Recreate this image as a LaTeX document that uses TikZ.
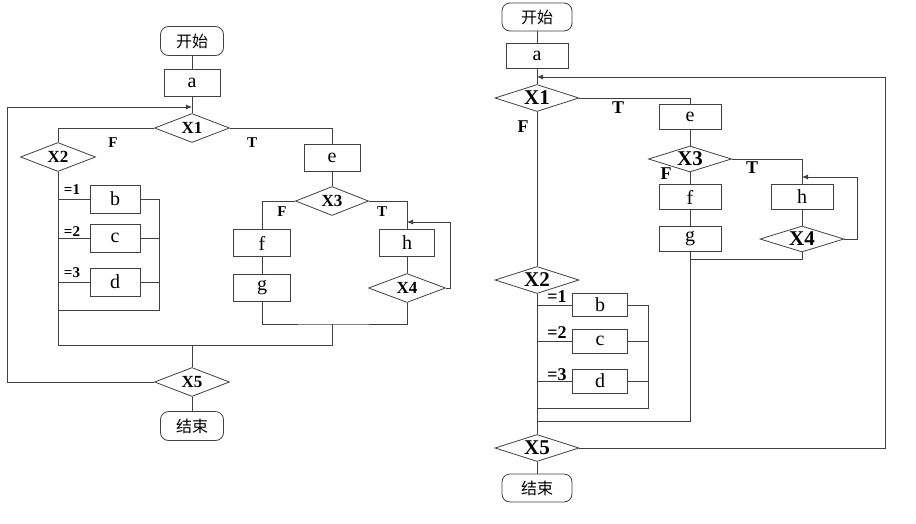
\documentclass[tikz,border=0pt]{standalone}
\usepackage{fontspec}
\setmainfont{Liberation Serif}
\newfontfamily\cjk{Noto Sans CJK SC}
\usepackage{tikz}
\usetikzlibrary{arrows.meta, shapes.geometric, calc}

\tikzset{
  term/.style={draw, rounded corners=8pt, minimum width=63pt, minimum height=29pt, inner sep=0pt, font=\cjk\fontsize{16}{16}\selectfont},
  proc/.style={draw, rectangle, minimum width=56pt, minimum height=27pt, inner sep=0pt, font=\fontsize{20}{20}\selectfont},
  dec/.style={draw, diamond, aspect=2.6, minimum width=75pt, minimum height=29pt, inner sep=0pt, font=\bfseries\fontsize{17}{17}\selectfont},
  lbl/.style={font=\bfseries\fontsize{15}{15}\selectfont, inner sep=0pt}
}

\begin{document}
\begin{tikzpicture}[x=1pt, y=-1pt, line width=0.8pt, draw=black!75, >={Latex[length=6pt,width=5pt]}]
  \useasboundingbox (0,0) rectangle (916,523);

  % left chart
  \node[term] (s1) at (192,41) {开始};
  \node[proc] (a1) at (192,83) {a};
  \node[dec] (x11) at (192,128) {X1};
  \node[dec] (x21) at (58,157) {X2};
  \node[proc, minimum width=50pt, minimum height=28pt] (b1) at (115,199) {b};
  \node[proc, minimum width=50pt, minimum height=28pt] (c1) at (115,238) {c};
  \node[proc, minimum width=50pt, minimum height=28pt] (d1) at (115,282) {d};
  \node[proc] (e1) at (332,158) {e};
  \node[dec, minimum width=73pt] (x31) at (332,201) {X3};
  \node[proc, minimum width=57pt] (f1) at (262,243) {f};
  \node[proc, minimum width=57pt] (g1) at (262,288) {g};
  \node[proc, minimum width=55pt] (h1) at (407,243) {h};
  \node[dec, minimum width=77pt] (x41) at (407,288) {X4};
  \node[dec] (x51) at (192,382) {X5};
  \node[term] (t1) at (192,426) {结束};
  \coordinate (top1) at (192,107);
  \coordinate (lp1) at (7,107);
  \coordinate (h1in) at (407,222);
  \coordinate (j1) at (332,324);
  \coordinate (m1) at (192,345);
  \coordinate (r1) at (159,310);

  \draw (s1) -- (a1);
  \draw (a1) -- (x11);
  \draw (x11.west) -| (x21.north);
  \draw (x11.east) -| (e1.north);
  \draw (e1) -- (x31);
  \draw (x31.west) -| (f1.north);
  \draw (x31.east) -| (h1.north);
  \draw (f1) -- (g1);
  \draw (h1) -- (x41);
  \draw[->] (x41.east) -- ++(4,0) |- (h1in);
  \draw (g1.south) |- (j1) -| (x41.south);
  \draw (j1) |- (m1);
  \draw (x21.south) |- (m1);
  \draw (x21.south |- b1.west) -- (b1.west);
  \draw (x21.south |- c1.west) -- (c1.west);
  \draw (x21.south |- d1.west) -- (d1.west);
  \draw (b1.east) -| (r1) -- (x21.south |- r1);
  \draw (c1.east) -- (r1 |- c1.east);
  \draw (d1.east) -- (r1 |- d1.east);
  \draw (m1) -- (x51);
  \draw (x51) -- (t1);
  \draw[->] (x51.west) -| (lp1) -- (top1);
  \node[lbl] at (113,143) {F};
  \node[lbl] at (252,143) {T};
  \node[lbl] at (282,212) {F};
  \node[lbl] at (382,212) {T};
  \node[lbl] at (72,190) {=1};
  \node[lbl] at (72,232) {=2};
  \node[lbl] at (72,273) {=3};

  % right chart
  \begin{scope}[dec/.append style={minimum width=84pt, minimum height=27pt, font=\bfseries\fontsize{21}{21}\selectfont},
                proc/.append style={minimum width=62pt, minimum height=25pt},
                term/.append style={minimum width=70pt, minimum height=28pt},
                lbl/.append style={font=\bfseries\fontsize{18}{18}\selectfont}]
  \node[term] (s2) at (537,17) {开始};
  \node[proc] (a2) at (537,56) {a};
  \node[dec] (x12) at (537,98) {X1};
  \node[proc] (e2) at (690,117) {e};
  \node[dec, minimum width=83pt, minimum height=26pt] (x32) at (690,159) {X3};
  \node[proc] (f2) at (690,197) {f};
  \node[proc] (g2) at (690,239) {g};
  \node[proc] (h2) at (802,197) {h};
  \node[dec, minimum height=26pt] (x42) at (802,239) {X4};
  \node[dec] (x22) at (537,280) {X2};
  \node[proc, minimum width=55pt, minimum height=23pt] (b2) at (600,305) {b};
  \node[proc, minimum width=55pt, minimum height=24pt] (c2) at (600,341) {c};
  \node[proc, minimum width=55pt, minimum height=24pt] (d2) at (600,381) {d};
  \node[dec] (x52) at (537,448) {X5};
  \node[term] (t2) at (537,488) {结束};
  \coordinate (top2) at (537,77);
  \coordinate (rp2) at (885,77);
  \coordinate (h2in) at (802,177);
  \coordinate (j2) at (690,259);
  \coordinate (m2) at (537,421);
  \coordinate (r2) at (648,408);

  \draw (s2) -- (a2);
  \draw (a2) -- (x12);
  \draw (x12.east) -| (e2.north);
  \draw (e2) -- (x32);
  \draw (x32.east) -| (h2.north);
  \draw (x32) -- (f2);
  \draw (f2) -- (g2);
  \draw (h2) -- (x42);
  \draw[->] (x42.east) -- ++(13,0) |- (h2in);
  \draw (x42.south) |- (j2);
  \draw (g2.south) |- (m2);
  \draw (x12.south) -- (x22.north);
  \draw (x22.south) -- (x52.north);
  \draw (x22.south |- b2.west) -- (b2.west);
  \draw (x22.south |- c2.west) -- (c2.west);
  \draw (x22.south |- d2.west) -- (d2.west);
  \draw (b2.east) -| (r2) -- (x22.south |- r2);
  \draw (c2.east) -- (r2 |- c2.east);
  \draw (d2.east) -- (r2 |- d2.east);
  \draw (x52) -- (t2);
  \draw[->] (x52.east) -| (rp2) -- (top2);
  \node[lbl] at (618,108) {T};
  \node[lbl] at (523,127) {F};
  \node[lbl] at (752,168) {T};
  \node[lbl] at (666,174) {F};
  \node[lbl] at (557,297) {=1};
  \node[lbl] at (557,333) {=2};
  \node[lbl] at (557,375) {=3};
  \end{scope}
\end{tikzpicture}
\end{document}
